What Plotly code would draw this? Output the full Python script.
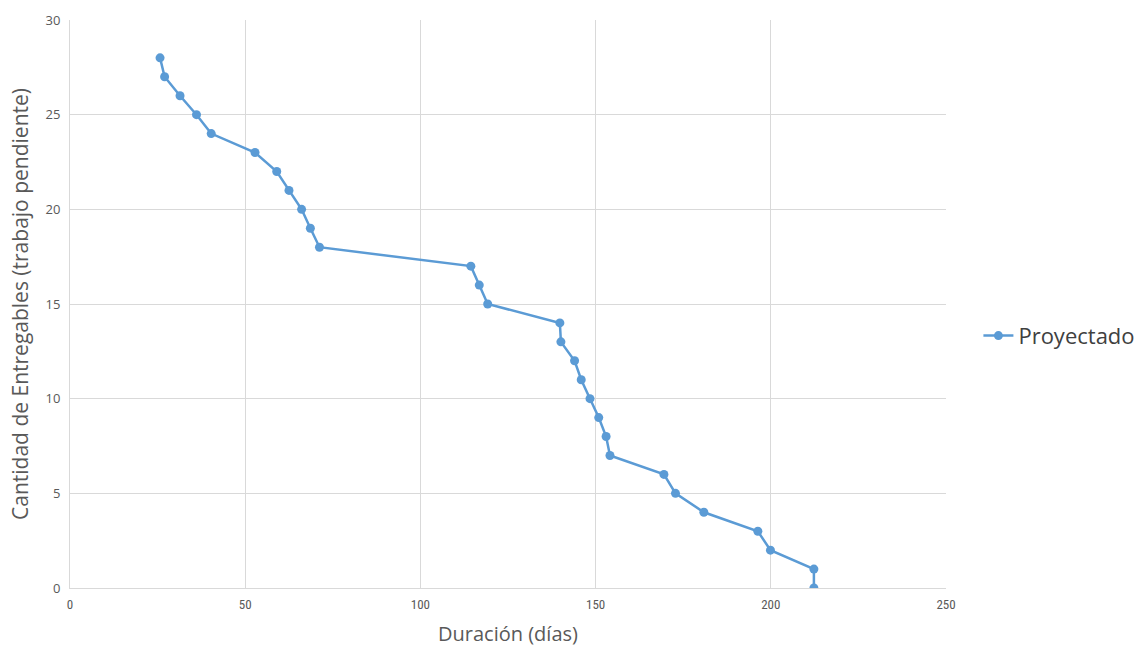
import plotly.graph_objects as go

# Duración acumulada (días) por cantidad de entregables pendientes
duracion_dias = [25.7, 27.0, 31.4, 36.1, 40.3, 52.8, 59.0, 62.5, 66.1, 68.6, 71.2,
                 114.4, 116.8, 119.2, 139.8, 140.1, 144.0, 145.9, 148.4, 150.9,
                 153.0, 154.1, 169.5, 172.8, 180.9, 196.3, 199.9, 212.3, 212.3]
entregables = [28, 27, 26, 25, 24, 23, 22, 21, 20, 19, 18, 17, 16, 15, 14, 13, 12,
               11, 10, 9, 8, 7, 6, 5, 4, 3, 2, 1, 0]
serie_nombre = "Proyectado"

x_ticks = [0, 50, 100, 150, 200, 250]
y_ticks = [0, 5, 10, 15, 20, 25, 30]

color_serie = "#5B9BD5"
color_texto = "#595959"
color_rejilla = "#D9D9D9"

fig = go.Figure()
fig.add_trace(go.Scatter(
    x=duracion_dias,
    y=entregables,
    mode="lines+markers",
    name=serie_nombre,
    line=dict(color=color_serie, width=2.5),
    marker=dict(color=color_serie, size=9),
))

fig.update_layout(
    width=1145,
    height=648,
    margin=dict(l=70, r=199, t=20, b=60, autoexpand=False),
    paper_bgcolor="white",
    plot_bgcolor="white",
    font=dict(family="Open Sans, sans-serif", color=color_texto),
    showlegend=True,
    legend=dict(
        x=1.037, xanchor="left", xref="paper",
        y=0.444, yanchor="middle",
        font=dict(size=22, color="#404040", family="Open Sans, sans-serif"),
        bgcolor="rgba(0,0,0,0)",
        itemwidth=30,
    ),
    xaxis=dict(
        range=[0, 250],
        tickvals=x_ticks,
        automargin=False,
        showgrid=True,
        gridcolor=color_rejilla,
        gridwidth=1,
        zeroline=False,
        showline=True,
        linecolor=color_rejilla,
        ticks="",
        ticklabelstandoff=4,
        tickfont=dict(size=13, color=color_texto, family="Liberation Sans Narrow, Roboto Condensed, Arial Narrow, sans-serif"),
        title=dict(text="Duración (días)", font=dict(size=20, color=color_texto), standoff=16),
    ),
    yaxis=dict(
        range=[0, 30],
        tickvals=y_ticks,
        automargin=False,
        showgrid=True,
        gridcolor=color_rejilla,
        gridwidth=1,
        zeroline=False,
        showline=True,
        linecolor=color_rejilla,
        ticks="",
        ticklabelstandoff=6,
        tickfont=dict(size=13, color=color_texto),
        title=dict(text="Cantidad de Entregables (trabajo pendiente)", font=dict(size=21, color=color_texto), standoff=11),
    ),
)

fig.write_html("out.html")
